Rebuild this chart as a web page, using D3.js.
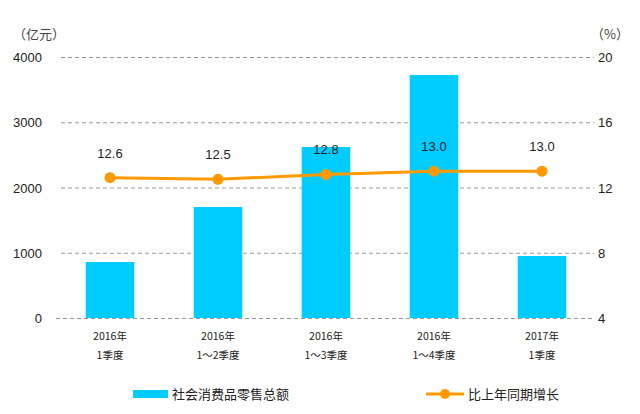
<!DOCTYPE html>
<html><head><meta charset="utf-8">
<script src="https://cdn.jsdelivr.net/npm/d3@7"></script>
<style>body{margin:0;background:#fff}svg{display:block}</style>
</head><body><svg id="c" width="640" height="414"></svg>
<script>
const categoriesLine1 = ["2016年","2016年","2016年","2016年","2017年"];
const categoriesLine2 = ["1季度","1～2季度","1～3季度","1～4季度","1季度"];
const retailSales = [858, 1701, 2621, 3724, 950];
const growthRate = [12.6, 12.5, 12.8, 13.0, 13.0];
const leftTicks = [0, 1000, 2000, 3000, 4000];
const rightTicks = [4, 8, 12, 16, 20];
const seriesNames = ["社会消费品零售总额", "比上年同期增长"];

const svg = d3.select("#c");
const font = "'Liberation Sans', Arial, sans-serif";
const cjk = "'Noto Sans CJK SC', sans-serif";
const x = d3.scaleBand().domain(d3.range(categoriesLine1.length)).range([56, 596]).paddingInner(0.55).paddingOuter(0.275);
const yL = d3.scaleLinear().domain([0, 4000]).range([318, 57]);
const yR = d3.scaleLinear().domain([4, 20]).range([318, 57]);

// gridlines
svg.append("g").selectAll("line").data(leftTicks).join("line")
  .attr("x1", d => d === 0 ? 56 : 61).attr("x2", 594)
  .attr("y1", d => yL(d) + 0.5).attr("y2", d => yL(d) + 0.5)
  .attr("stroke", "#999").attr("stroke-width", 1).attr("stroke-dasharray", "4,3");

// axis labels
svg.append("g").selectAll("text").data(leftTicks).join("text")
  .attr("x", 42).attr("y", d => yL(d) + 5).attr("text-anchor", "end")
  .attr("font-family", font).attr("font-size", 13).attr("fill", "#222").text(d => d);
svg.append("g").selectAll("text").data(rightTicks).join("text")
  .attr("x", 598).attr("y", d => yR(d) + 5).attr("text-anchor", "start")
  .attr("font-family", font).attr("font-size", 13).attr("fill", "#222").text(d => d);
svg.append("text").attr("x", 13).attr("y", 39).attr("font-family", cjk).attr("font-size", 13).attr("fill", "#444").text("（亿元）");
svg.append("text").attr("x", 591).attr("y", 39).attr("font-family", cjk).attr("font-size", 13).attr("fill", "#444").text("（%）");

// bars
svg.append("g").selectAll("rect").data(retailSales).join("rect")
  .attr("x", (d, i) => x(i)).attr("width", x.bandwidth())
  .attr("y", d => yL(d)).attr("height", d => yL(0) - yL(d))
  .attr("fill", "#00CCFF");

// line
const cx = i => x(i) + x.bandwidth() / 2;
svg.append("path").datum(growthRate)
  .attr("d", d3.line().x((d, i) => cx(i)).y(d => yR(d)))
  .attr("fill", "none").attr("stroke", "#FF9900").attr("stroke-width", 3);
svg.append("g").selectAll("circle").data(growthRate).join("circle")
  .attr("cx", (d, i) => cx(i)).attr("cy", d => yR(d)).attr("r", 5.5).attr("fill", "#FF9900");
svg.append("g").selectAll("text").data(growthRate).join("text")
  .attr("x", (d, i) => cx(i)).attr("y", d => yR(d) - 20).attr("text-anchor", "middle")
  .attr("font-family", font).attr("font-size", 13).attr("fill", "#222").text(d => d.toFixed(1));

// x labels
const xl = svg.append("g");
xl.selectAll("text.l1").data(categoriesLine1).join("text").attr("class", "l1")
  .attr("x", (d, i) => cx(i)).attr("y", 340).attr("text-anchor", "middle")
  .attr("font-family", cjk).attr("font-size", 10.5).attr("fill", "#222").text(d => d);
xl.selectAll("text.l2").data(categoriesLine2).join("text").attr("class", "l2")
  .attr("x", (d, i) => cx(i)).attr("y", 359).attr("text-anchor", "middle")
  .attr("font-family", cjk).attr("font-size", 10.5).attr("fill", "#222").text(d => d);

// legend
svg.append("rect").attr("x", 133).attr("y", 390).attr("width", 35).attr("height", 8).attr("fill", "#00CCFF");
svg.append("text").attr("x", 172).attr("y", 399).attr("font-family", cjk).attr("font-size", 13).attr("fill", "#222").text(seriesNames[0]);
svg.append("line").attr("x1", 426).attr("x2", 464).attr("y1", 394).attr("y2", 394).attr("stroke", "#FF9900").attr("stroke-width", 3);
svg.append("circle").attr("cx", 445).attr("cy", 394).attr("r", 5).attr("fill", "#FF9900");
svg.append("text").attr("x", 468).attr("y", 399).attr("font-family", cjk).attr("font-size", 13).attr("fill", "#222").text(seriesNames[1]);
</script></body></html>
